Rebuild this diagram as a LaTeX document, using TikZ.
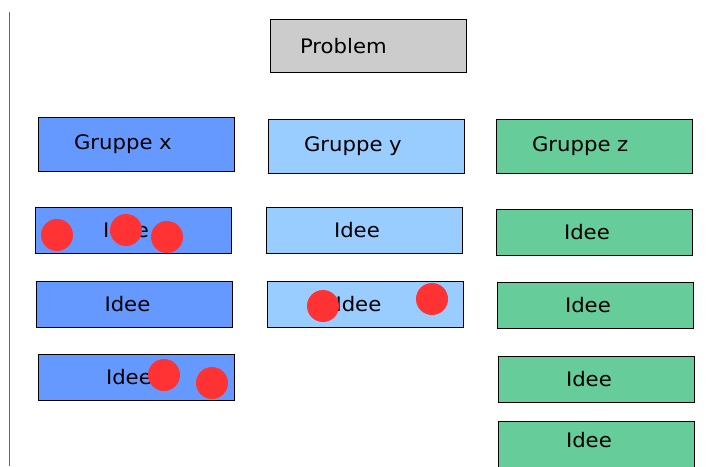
\documentclass[tikz,border=0pt]{standalone}
\usepackage{fontspec}
\setmainfont[FakeStretch=1.06]{DejaVu Sans}

\definecolor{bluX}{HTML}{6699FF}
\definecolor{bluY}{HTML}{99CCFF}
\definecolor{verdeZ}{HTML}{66CC99}
\definecolor{grigioP}{HTML}{CCCCCC}
\definecolor{rosso}{HTML}{FF3333}

\begin{document}
\begin{tikzpicture}[x=1pt, y=-1pt, line width=0.8pt,
    font=\fontsize{20}{24}\selectfont,
    gruppo/.style={draw=black, rectangle, minimum height=54pt, inner xsep=36pt, text width=124pt, align=left},
    idea/.style={draw=black, rectangle, minimum height=46pt, inner xsep=68pt, text width=60pt, align=left}]

    \useasboundingbox (0,0) rectangle (712,466);

    % Definizione del comando \punto con 2 argomenti
    \def\punto#1#2{%
        \fill[rosso] (#1,#2) circle (16);%
    }

    % -- Linea a sinistra --
    \draw[black!60, line width=1pt] (9.5,12) -- (9.5,466);

    % -- Problema --
    \node[gruppo, fill=grigioP, minimum height=53pt, inner xsep=30pt, text width=136pt] (problem) at (368,46) {Problem};

    % -- Gruppi --
    \node[gruppo, fill=bluX] (gx) at (136,144.5) {Gruppe x};
    \node[gruppo, fill=bluY] (gy) at (366,146) {Gruppe y};
    \node[gruppo, fill=verdeZ] (gz) at (594,146) {Gruppe z};

    % -- Idee del gruppo x --
    \node[idea, fill=bluX] (x1) at (133,230) {Idee};
    \node[idea, fill=bluX] (x2) at (134.5,304) {Idee};
    \node[idea, fill=bluX] (x3) at (136,377) {Idee};

    % -- Idee del gruppo y --
    \node[idea, fill=bluY] (y1) at (364,230) {Idee};
    \node[idea, fill=bluY] (y2) at (365.5,304) {Idee};

    % -- Idee del gruppo z --
    \node[idea, fill=verdeZ] (z1) at (594,232) {Idee};
    \node[idea, fill=verdeZ] (z2) at (595,305) {Idee};
    \node[idea, fill=verdeZ] (z3) at (596,379) {Idee};
    \node[idea, fill=verdeZ, text depth=8pt] (z4) at (596,444) {Idee}; % tagliata in basso

    % Punti rossi (voti)
    \punto{57}{235}
    \punto{126}{230}
    \punto{167}{237}
    \punto{164}{375}
    \punto{212}{383}
    \punto{323}{306}
    \punto{432}{299}
\end{tikzpicture}
\end{document}
